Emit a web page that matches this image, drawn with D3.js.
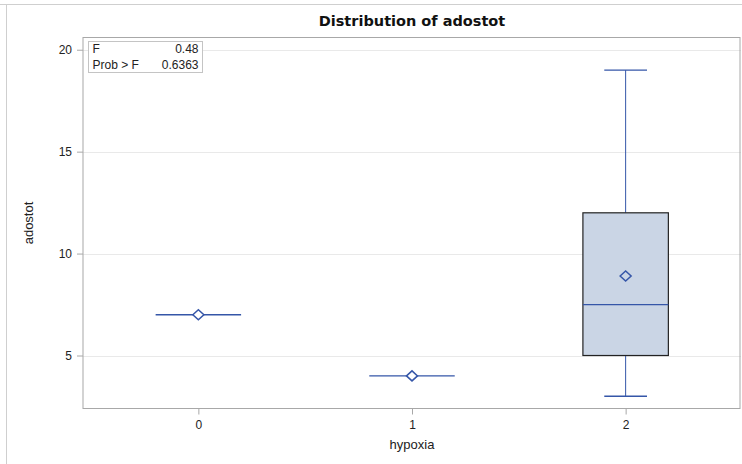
<!DOCTYPE html>
<html>
<head>
<meta charset="utf-8">
<script src="https://cdn.jsdelivr.net/npm/d3@7"></script>
<style>
  body { margin: 0; background: #fff; }
  svg { display: block; }
</style>
</head>
<body>
<div id="chart"></div>
<script>
// values
const groups = [0, 1, 2];
const minVals = [7, 4, 3];
const q1Vals = [7, 4, 5];
const medianVals = [7, 4, 7.5];
const q3Vals = [7, 4, 12];
const maxVals = [7, 4, 19];
const meanVals = [7, 4, 8.9];
const yTicks = [5, 10, 15, 20];
const statLabels = ["F", "Prob > F"];
const statValues = ["0.48", "0.6363"];

const [width, height] = [742, 464];
const frame = { left: 83, right: 741, top: 37.5, bottom: 408.5 };
const lineBlue = "#3556a8";
const boxFill = "#cad5e5";
const font = "'Liberation Sans', Arial, sans-serif";

const svg = d3.select("#chart")
    .append("svg")
    .attr("width", width)
    .attr("height", height);

// outer border (top and left, as in the capture)
svg.append("line")
    .attr("x1", 0).attr("x2", width).attr("y1", 4.5).attr("y2", 4.5)
    .attr("stroke", "#cfcfcf");
svg.append("line")
    .attr("x1", 6.5).attr("x2", 6.5).attr("y1", 4).attr("y2", height)
    .attr("stroke", "#cfcfcf");

const x = d3.scaleLinear()
    .domain([-0.54, 2.54])
    .range([frame.left, frame.right]);

const y = d3.scaleLinear()
    .domain([2.4, 20.6])
    .range([frame.bottom, frame.top]);

// grid lines
svg.append("g")
    .selectAll("line")
    .data(yTicks)
    .enter()
    .append("line")
    .attr("x1", frame.left).attr("x2", frame.right)
    .attr("y1", d => Math.round(y(d)) + 0.5)
    .attr("y2", d => Math.round(y(d)) + 0.5)
    .attr("stroke", "#e9e9e9");

// axes
const yAxis = svg.append("g")
    .attr("transform", `translate(${frame.left},0)`)
    .call(d3.axisLeft(y).tickValues(yTicks).tickFormat(d3.format("d")).tickSize(6).tickPadding(5));

const xAxis = svg.append("g")
    .attr("transform", `translate(0,${frame.bottom})`)
    .call(d3.axisBottom(x).tickValues(groups).tickFormat(d3.format("d")).tickSize(6).tickPadding(6));

[yAxis, xAxis].forEach(ax => {
    ax.select(".domain").remove();
    ax.selectAll(".tick line").attr("stroke", "#a8a8a8");
    ax.selectAll(".tick text")
        .attr("font-family", font)
        .attr("font-size", 12)
        .attr("fill", "#222");
});

// plot frame
svg.append("rect")
    .attr("x", frame.left).attr("y", frame.top)
    .attr("width", frame.right - frame.left - 1)
    .attr("height", frame.bottom - frame.top)
    .attr("fill", "none")
    .attr("stroke", "#a8a8a8");

// boxes
const half = 0.2;
const cap = 0.1;
const box = svg.append("g")
    .selectAll("g")
    .data(groups)
    .enter()
    .append("g");

box.filter((d, i) => maxVals[i] > q3Vals[i] || minVals[i] < q1Vals[i])
    .each(function (d) {
        const g = d3.select(this);
        const idx = groups.indexOf(d);
        // whiskers
        [[q3Vals[idx], maxVals[idx]], [q1Vals[idx], minVals[idx]]].forEach(([a, b]) => {
            g.append("line")
                .attr("x1", x(d)).attr("x2", x(d))
                .attr("y1", y(a)).attr("y2", y(b))
                .attr("stroke", lineBlue);
            g.append("line")
                .attr("x1", x(d - cap)).attr("x2", x(d + cap))
                .attr("y1", y(b)).attr("y2", y(b))
                .attr("stroke", lineBlue).attr("stroke-width", 1.3);
        });
    });

box.filter((d, i) => q3Vals[i] > q1Vals[i])
    .append("rect")
    .attr("x", d => x(d - half))
    .attr("width", d => x(d + half) - x(d - half))
    .attr("y", d => y(q3Vals[groups.indexOf(d)]))
    .attr("height", d => y(q1Vals[groups.indexOf(d)]) - y(q3Vals[groups.indexOf(d)]))
    .attr("fill", boxFill)
    .attr("stroke", "#222")
    .attr("stroke-width", 1.2);

// median
box.append("line")
    .attr("x1", d => x(d - half))
    .attr("x2", d => x(d + half))
    .attr("y1", d => y(medianVals[groups.indexOf(d)]))
    .attr("y2", d => y(medianVals[groups.indexOf(d)]))
    .attr("stroke", lineBlue)
    .attr("stroke-width", 1.3);

// mean diamond
box.append("path")
    .attr("transform", d => `translate(${x(d)},${y(meanVals[groups.indexOf(d)])})`)
    .attr("d", "M-5.5,0L0,-5L5.5,0L0,5Z")
    .attr("fill", d => q3Vals[groups.indexOf(d)] > q1Vals[groups.indexOf(d)] ? boxFill : "#fff")
    .attr("stroke", lineBlue)
    .attr("stroke-width", 1.5);

// stats inset
const inset = svg.append("g").attr("transform", "translate(88.5,41.5)");
inset.append("rect")
    .attr("width", 114).attr("height", 31)
    .attr("fill", "#fff")
    .attr("stroke", "#c4c4c4");
statLabels.forEach((lab, i) => {
    inset.append("text")
        .attr("x", 4).attr("y", 11.5 + i * 15.5)
        .attr("font-family", font).attr("font-size", 12)
        .attr("fill", "#222")
        .text(lab);
    inset.append("text")
        .attr("x", 110).attr("y", 11.5 + i * 15.5)
        .attr("text-anchor", "end")
        .attr("font-family", font).attr("font-size", 12)
        .attr("fill", "#222")
        .text(statValues[i]);
});

// titles
svg.append("text")
    .attr("x", (frame.left + frame.right) / 2)
    .attr("y", 26)
    .attr("text-anchor", "middle")
    .attr("font-family", "'DejaVu Sans', Verdana, sans-serif")
    .attr("font-weight", "bold")
    .attr("font-size", 14.5)
    .attr("fill", "#111")
    .text("Distribution of adostot");

svg.append("text")
    .attr("x", (frame.left + frame.right) / 2)
    .attr("y", 449)
    .attr("text-anchor", "middle")
    .attr("font-family", font)
    .attr("font-size", 13)
    .attr("fill", "#222")
    .text("hypoxia");

svg.append("text")
    .attr("transform", `translate(33,${(frame.top + frame.bottom) / 2}) rotate(-90)`)
    .attr("text-anchor", "middle")
    .attr("font-family", font)
    .attr("font-size", 13)
    .attr("fill", "#222")
    .text("adostot");
</script>
</body>
</html>
